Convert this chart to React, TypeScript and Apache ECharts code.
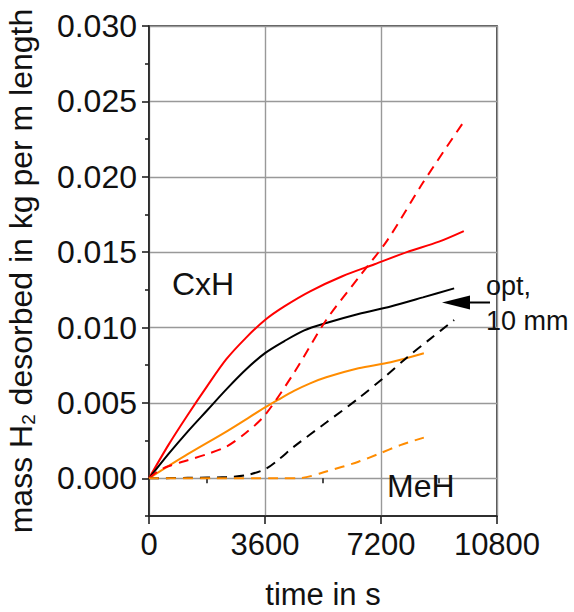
import React, { useEffect, useRef } from 'react';
import * as echarts from 'echarts';

// axis ticks
const xTicks = [0, 3600, 7200, 10800];
const xMinorTicks = [1800, 5400, 9000];
const yTicks = [0, 0.005, 0.01, 0.015, 0.02, 0.025, 0.03];
const yMinorTicks = [-0.0025, 0.0025, 0.0075, 0.0125, 0.0175, 0.0225, 0.0275];

// CxH (solid lines)
const cxhRedT = [0, 600, 1200, 1800, 2400, 3000, 3600, 4200, 5000, 6000, 7000, 8000, 9000, 9770];
const cxhRedV = [0, 0.0022, 0.0042, 0.0061, 0.0079, 0.0093, 0.0105, 0.0114, 0.0124, 0.0134, 0.0142, 0.015, 0.0157, 0.0164];

const cxhBlackT = [0, 600, 1200, 1800, 2400, 3000, 3600, 4200, 4800, 5500, 6500, 7500, 8500, 9470];
const cxhBlackV = [0, 0.0016, 0.0031, 0.0045, 0.0059, 0.0072, 0.0083, 0.0091, 0.0098, 0.0103, 0.0109, 0.0114, 0.012, 0.0126];

const cxhOrangeT = [0, 1200, 2400, 3600, 4000, 4500, 5000, 5500, 6500, 7500, 8530];
const cxhOrangeV = [0, 0.0016, 0.0031, 0.0047, 0.0052, 0.0058, 0.0063, 0.0067, 0.0073, 0.0077, 0.0083];

// MeH (dashed lines)
const mehRedT = [0, 300, 600, 1200, 1800, 2400, 3000, 3600, 4500, 5500, 6500, 7400, 8500, 9720];
const mehRedV = [0, 0.0005, 0.0008, 0.0012, 0.0016, 0.0021, 0.003, 0.0042, 0.007, 0.0105, 0.0133, 0.0158, 0.0196, 0.0235];

const mehBlackT = [0, 1200, 2400, 3000, 3600, 4000, 4500, 5500, 6500, 7300, 8000, 8700, 9470];
const mehBlackV = [0, 0.00003, 0.00008, 0.0002, 0.0006, 0.0012, 0.0021, 0.0037, 0.0053, 0.0067, 0.008, 0.0092, 0.0105];

const mehOrangeT = [0, 2000, 4000, 4700, 5500, 6500, 7100, 7800, 8530];
const mehOrangeV = [0, 0, 0, 0.00002, 0.00045, 0.0011, 0.0016, 0.0022, 0.0027];

const RED = '#ff0000';
const BLACK = '#000000';
const ORANGE = '#ff8c00';
const FONT = 'Liberation Sans, Arial, sans-serif';

function pairs(t: number[], v: number[]) {
  return t.map((x, i) => [x, v[i]]);
}

function line(name: string, t: number[], v: number[], color: string, dashed: boolean) {
  return {
    name,
    type: 'line',
    data: pairs(t, v),
    smooth: 0.3,
    showSymbol: false,
    symbol: 'none',
    lineStyle: { color, width: 2, type: dashed ? [10, 7] : 'solid' },
    xAxisIndex: 0,
    yAxisIndex: 0,
  };
}

export default function App() {
  const ref = useRef<HTMLDivElement>(null);
  useEffect(() => {
    if (!ref.current) return;
    const chart = echarts.init(ref.current, undefined, { renderer: 'svg' });
    const axisLineStyle = { color: '#222', width: 1.6 };
    chart.setOption({
      animation: false,
      backgroundColor: '#ffffff',
      grid: {
        left: 149,
        right: 77,
        top: 26,
        bottom: 96,
        containLabel: false,
        outerBoundsMode: 'none',
        show: true,
        borderColor: '#222',
        borderWidth: 1.6,
        backgroundColor: 'transparent',
      },
      xAxis: [
        {
          type: 'value',
          min: 0,
          max: 10800,
          position: 'bottom',
          name: 'time in s',
          nameLocation: 'middle',
          nameGap: 63,
          nameTextStyle: { fontFamily: FONT, fontSize: 31, lineHeight: 31, color: '#111' },
          axisLine: { show: true, onZero: false, lineStyle: axisLineStyle },
          axisTick: { show: true, inside: false, length: 8, customValues: xTicks, lineStyle: axisLineStyle },
          axisLabel: {
            show: true,
            customValues: xTicks,
            margin: 13,
            fontFamily: FONT,
            fontSize: 31,
            color: '#111',
            formatter: (v: number) => String(v),
          },
          splitLine: { show: true, lineStyle: { color: '#999', width: 1.4 } },
        },
        {
          type: 'value',
          min: 0,
          max: 10800,
          position: 'bottom',
          axisLine: { show: false },
          axisTick: { show: true, inside: false, length: 5, customValues: xMinorTicks, lineStyle: axisLineStyle },
          axisLabel: { show: false },
          splitLine: { show: false },
        },
      ],
      yAxis: [
        {
          type: 'value',
          min: -0.0025,
          max: 0.03,
          position: 'left',
          name: '{a|mass H}{s|2}{a| desorbed in kg per m length}',
          nameLocation: 'middle',
          nameGap: 111,
          nameRotate: 90,
          nameTextStyle: {
            fontFamily: FONT,
            color: '#111',
            rich: {
              a: { fontFamily: FONT, fontSize: 32, color: '#111', lineHeight: 34 },
              s: { fontFamily: FONT, fontSize: 19, color: '#111', lineHeight: 4, verticalAlign: 'bottom' },
            },
          },
          axisLine: { show: true, onZero: false, lineStyle: axisLineStyle },
          axisTick: { show: true, inside: false, length: 7, customValues: yTicks, lineStyle: axisLineStyle },
          axisLabel: {
            show: true,
            customValues: yTicks,
            margin: 12,
            fontFamily: FONT,
            fontSize: 32,
            color: '#111',
            formatter: (v: number) => v.toFixed(3),
          },
          splitLine: { show: true, lineStyle: { color: '#999', width: 1.4 } },
        },
        {
          type: 'value',
          min: -0.0025,
          max: 0.03,
          position: 'left',
          axisLine: { show: false },
          axisTick: { show: true, inside: false, length: 4, customValues: yMinorTicks, lineStyle: axisLineStyle },
          axisLabel: { show: false },
          splitLine: { show: false },
        },
      ],
      series: [
        line('CxH red', cxhRedT, cxhRedV, RED, false),
        line('CxH opt, 10 mm', cxhBlackT, cxhBlackV, BLACK, false),
        line('CxH orange', cxhOrangeT, cxhOrangeV, ORANGE, false),
        line('MeH red', mehRedT, mehRedV, RED, true),
        line('MeH opt, 10 mm', mehBlackT, mehBlackV, BLACK, true),
        line('MeH orange', mehOrangeT, mehOrangeV, ORANGE, true),
      ],
      graphic: [
        {
          type: 'text',
          left: 172,
          top: 268,
          z: 100,
          style: { text: 'CxH', fontFamily: FONT, fontSize: 32, fill: '#111' },
        },
        {
          type: 'text',
          left: 387,
          top: 470,
          z: 100,
          style: { text: 'MeH', fontFamily: FONT, fontSize: 32, fill: '#111' },
        },
        {
          type: 'text',
          left: 486,
          top: 268,
          z: 100,
          style: { text: 'opt,\n10 mm', fontFamily: FONT, fontSize: 27, lineHeight: 35, fill: '#111' },
        },
        {
          type: 'polygon',
          z: 100,
          shape: { points: [[442, 302.5], [470, 295.5], [470, 309.5]] },
          style: { fill: '#000' },
        },
        {
          type: 'line',
          z: 100,
          shape: { x1: 468, y1: 302.5, x2: 490, y2: 302.5 },
          style: { stroke: '#000', lineWidth: 2 },
        },
      ],
    });
    return () => chart.dispose();
  }, []);
  return <div ref={ref} style={{ width: 574, height: 612, position: 'absolute', left: 0, top: 0 }} />;
}
